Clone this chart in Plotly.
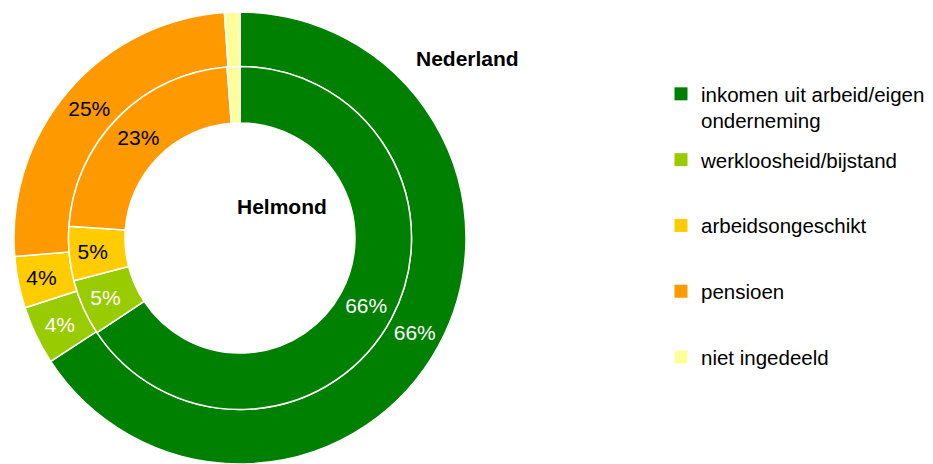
import plotly.graph_objects as go

# ---- data ----
categories = ["inkomen uit arbeid/eigen onderneming", "werkloosheid/bijstand",
              "arbeidsongeschikt", "pensioen", "niet ingedeeld"]
legend_labels = ["inkomen uit arbeid/eigen<br>onderneming", "werkloosheid/bijstand<br> ",
                 "arbeidsongeschikt<br> ", "pensioen<br> ", "niet ingedeeld<br> "]
nederland = [65.8, 4.2, 3.7, 25.2, 1.1]   # outer ring
helmond = [65.7, 5.3, 5.1, 22.7, 1.2]     # inner ring
shown = [True, True, True, True, False]

colors = ["#008000", "#99cc00", "#ffcc00", "#ff9900", "#ffff99"]
text_colors = ["#ffffff", "#ffffff", "#000000", "#000000", "#000000"]

W, H = 933, 464
FONT = "Liberation Sans, Arial, sans-serif"

cx, cy = 240, 238          # centre in px (from top-left)
r_out, r_mid, r_in = 226, 171.5, 115


def domain(r):
    return dict(x=[(cx - r) / W, (cx + r) / W],
                y=[max(0, (H - cy - r) / H), (H - cy + r) / H])


def labels_text(vals):
    return [f"{v:.0f}%" if s else "" for v, s in zip(vals, shown)]


fig = go.Figure()
fig.add_trace(go.Pie(
    labels=categories, values=nederland, sort=False, direction="clockwise",
    rotation=0, hole=r_mid / r_out, domain=domain(r_out),
    marker=dict(colors=colors, line=dict(color="white", width=1.5)),
    text=labels_text(nederland), textinfo="text", textposition="inside",
    insidetextorientation="horizontal",
    textfont=dict(family=FONT, size=21, color=text_colors),
    showlegend=False, name="Nederland"))
fig.add_trace(go.Pie(
    labels=categories, values=helmond, sort=False, direction="clockwise",
    rotation=0, hole=r_in / r_mid, domain=domain(r_mid),
    marker=dict(colors=colors, line=dict(color="white", width=1.5)),
    text=labels_text(helmond), textinfo="text", textposition="inside",
    insidetextorientation="horizontal",
    textfont=dict(family=FONT, size=21, color=text_colors),
    showlegend=False, name="Helmond"))

# legend entries
for lab, col, i in zip(legend_labels, colors, range(len(colors))):
    fig.add_trace(go.Scatter(
        x=[None], y=[None], mode="markers", name=lab, legendgroup=f"g{i}",
        marker=dict(symbol="square", size=13, color=col), showlegend=True))

fig.add_annotation(text="<b>Nederland</b>", x=467 / W, y=1 - 58 / H, xref="paper", yref="paper",
                   xanchor="center", yanchor="middle",
                   showarrow=False, font=dict(family=FONT, size=21, color="#000"))
fig.add_annotation(text="<b>Helmond</b>", x=282 / W, y=1 - 207 / H, xref="paper", yref="paper",
                   xanchor="center", yanchor="middle",
                   showarrow=False, font=dict(family=FONT, size=21, color="#000"))

fig.update_layout(
    width=W, height=H, margin=dict(l=0, r=0, t=0, b=0),
    paper_bgcolor="white", plot_bgcolor="white",
    xaxis=dict(visible=False), yaxis=dict(visible=False),
    legend=dict(x=661 / W, y=1 - 74 / H, xanchor="left", yanchor="top",
                valign="top", tracegroupgap=9.5, itemclick=False,
                font=dict(family=FONT, size=20.5, color="#000")),
)
fig.write_html("out.html", config={"displayModeBar": False},
               post_script="document.body.style.margin='0';")
